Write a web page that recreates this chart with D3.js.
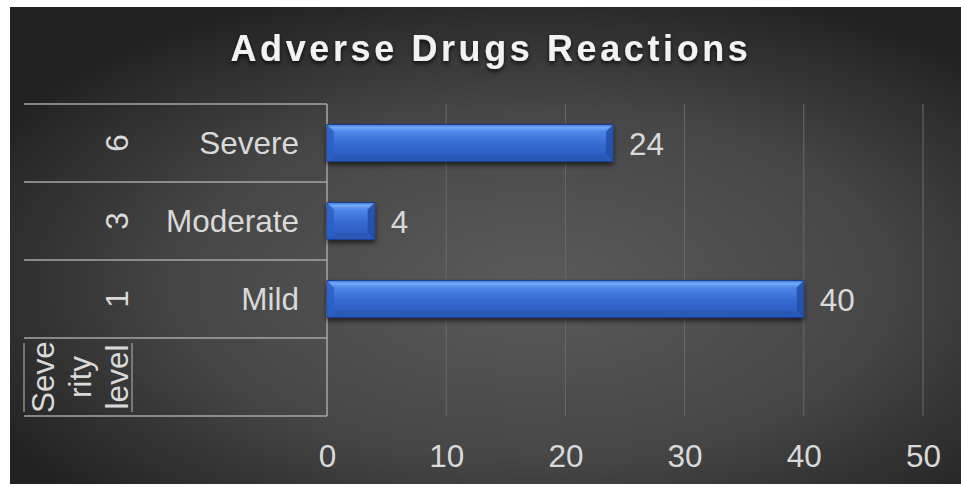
<!DOCTYPE html>
<html>
<head>
<meta charset="utf-8">
<script src="https://cdn.jsdelivr.net/npm/d3@7"></script>
<style>
  html, body { margin: 0; padding: 0; background: #ffffff; }
  svg { display: block; font-family: "Liberation Sans", Arial, sans-serif; }
</style>
</head>
<body>
<svg id="chart" width="961" height="489"></svg>
<script>
// ---- data ----
const title = "Adverse Drugs Reactions";
const outerLabels = ["Severity level", "1", "3", "6"];
const innerLabels = ["", "Mild", "Moderate", "Severe"];
const values = [null, 40, 4, 24];
const xTicks = [0, 10, 20, 30, 40, 50];
const groupLabelLines = ["Seve", "rity", "level"];

// ---- layout ----
const W = 961, H = 489;
const plot = { left: 327, right: 923, top: 104, bottom: 416 };
const FS = 31.5;
const svg = d3.select("#chart");
const defs = svg.append("defs");

const bg = defs.append("radialGradient").attr("id", "bg")
  .attr("cx", "55%").attr("cy", "58%").attr("r", "65%");
bg.append("stop").attr("offset", "0%").attr("stop-color", "#5a5a5a");
bg.append("stop").attr("offset", "55%").attr("stop-color", "#474747");
bg.append("stop").attr("offset", "100%").attr("stop-color", "#222222");

const barGrad = defs.append("linearGradient").attr("id", "barGrad")
  .attr("x1", 0).attr("y1", 0).attr("x2", 0).attr("y2", 1);
[["0%", "#3d74d8"], ["8%", "#72a8f5"], ["20%", "#4c86e6"], ["55%", "#3568cf"], ["100%", "#2a59bb"]]
  .forEach(([o, c]) => barGrad.append("stop").attr("offset", o).attr("stop-color", c));

const shadow = defs.append("filter").attr("id", "shadow")
  .attr("x", "-10%").attr("y", "-30%").attr("width", "130%").attr("height", "190%");
shadow.append("feDropShadow").attr("dx", 0).attr("dy", 3).attr("stdDeviation", 2.5)
  .attr("flood-color", "#000").attr("flood-opacity", 0.6);

const tShadow = defs.append("filter").attr("id", "tshadow")
  .attr("x", "-5%").attr("y", "-30%").attr("width", "110%").attr("height", "170%");
tShadow.append("feDropShadow").attr("dx", 0).attr("dy", 2.5).attr("stdDeviation", 2)
  .attr("flood-color", "#000").attr("flood-opacity", 0.75);

svg.append("rect").attr("x", 10).attr("y", 7).attr("width", W - 10).attr("height", 477)
  .attr("fill", "url(#bg)");

// ---- scales ----
const x = d3.scaleLinear().domain([0, 50]).range([plot.left, plot.right]);
const y = d3.scaleBand().domain(d3.range(outerLabels.length))
  .range([plot.bottom, plot.top]).padding(0);
const bw = y.bandwidth();
const barH = bw * 0.475;

// gridlines
svg.append("g").selectAll("line").data(xTicks.filter(t => t > 0)).join("line")
  .attr("x1", d => x(d)).attr("x2", d => x(d))
  .attr("y1", plot.top).attr("y2", plot.bottom)
  .attr("stroke", "#6a6a6a").attr("stroke-width", 1);

// x axis labels
const xAxis = d3.axisBottom(x).tickValues(xTicks).tickSize(0).tickPadding(0);
const gx = svg.append("g").attr("transform", `translate(0,${plot.bottom})`).call(xAxis);
gx.select(".domain").remove();
gx.selectAll("text").attr("y", 50.5).attr("dy", 0)
  .attr("font-size", FS).attr("fill", "#d9d9d9").attr("font-family", "Liberation Sans, Arial, sans-serif");

// category separators
const seps = d3.range(outerLabels.length + 1).map(i => plot.bottom - i * bw);
svg.append("g").selectAll("line").data(seps).join("line")
  .attr("x1", 24).attr("x2", plot.left)
  .attr("y1", d => d).attr("y2", d => d)
  .attr("stroke", "#a6a6a6").attr("stroke-width", 1.5);
svg.append("line").attr("x1", plot.left).attr("x2", plot.left)
  .attr("y1", plot.top).attr("y2", plot.bottom)
  .attr("stroke", "#a6a6a6").attr("stroke-width", 1.5);
// small borders around the group label cell
[24, 132].forEach(xx => svg.append("line").attr("x1", xx).attr("x2", xx)
  .attr("y1", y(0) + 5).attr("y2", y(0) + bw - 4)
  .attr("stroke", "#a6a6a6").attr("stroke-width", 1.2));

// inner labels
svg.append("g").selectAll("text").data(innerLabels).join("text")
  .attr("x", 299).attr("y", (d, i) => y(i) + bw / 2 + 11)
  .attr("text-anchor", "end").attr("font-size", FS).attr("fill", "#d9d9d9")
  .text(d => d);

// outer labels (rotated digits)
svg.append("g").selectAll("text").data(outerLabels.slice(1)).join("text")
  .attr("transform", (d, i) => `translate(128,${y(i + 1) + bw / 2}) rotate(-90)`)
  .attr("text-anchor", "middle").attr("font-size", FS).attr("fill", "#d9d9d9")
  .text(d => d);

// group label wrapped
const gl = svg.append("text")
  .attr("transform", `translate(0,${y(0) + bw / 2}) rotate(-90)`)
  .attr("text-anchor", "middle").attr("font-size", FS).attr("fill", "#d9d9d9");
gl.selectAll("tspan").data(groupLabelLines).join("tspan")
  .attr("x", 0).attr("y", (d, i) => 54 + i * 37)
  .text(d => d);

// bars
const rows = values.map((v, i) => ({ v, i })).filter(d => d.v != null);
const bars = svg.append("g").selectAll("g").data(rows).join("g");
bars.append("rect")
  .attr("x", x(0)).attr("y", d => y(d.i) + (bw - barH) / 2)
  .attr("width", d => x(d.v) - x(0)).attr("height", barH)
  .attr("fill", "url(#barGrad)").attr("stroke", "#1d3f8f").attr("stroke-width", 1)
  .attr("filter", "url(#shadow)");
const bev = 7;
bars.append("polygon").attr("points", d => {
  const x0 = x(0), y0 = y(d.i) + (bw - barH) / 2, y1 = y0 + barH;
  return [[x0, y0], [x0 + bev, y0 + bev], [x0 + bev, y1 - bev], [x0, y1]].join(" ");
}).attr("fill", "#2b5fc4").attr("opacity", 0.85);
bars.append("polygon").attr("points", d => {
  const x1 = x(d.v), y0 = y(d.i) + (bw - barH) / 2, y1 = y0 + barH;
  return [[x1, y0], [x1 - bev, y0 + bev], [x1 - bev, y1 - bev], [x1, y1]].join(" ");
}).attr("fill", "#234fa8").attr("opacity", 0.9);
bars.append("line")
  .attr("x1", d => x(0) + bev).attr("x2", d => x(d.v) - bev)
  .attr("y1", d => y(d.i) + (bw + barH) / 2 - 4).attr("y2", d => y(d.i) + (bw + barH) / 2 - 4)
  .attr("stroke", "#2a56b0").attr("stroke-width", 6).attr("opacity", 0.6);

// value labels
svg.append("g").selectAll("text").data(rows).join("text")
  .attr("x", d => x(d.v) + 16).attr("y", d => y(d.i) + bw / 2 + 11.5)
  .attr("font-size", FS).attr("fill", "#d9d9d9")
  .text(d => d.v);

// title
svg.append("text").attr("x", 491).attr("y", 61)
  .attr("text-anchor", "middle").attr("font-size", 36).attr("font-weight", "bold")
  .attr("letter-spacing", 3.6).attr("fill", "#f2f2f2").attr("filter", "url(#tshadow)")
  .text(title);
</script>
</body>
</html>
